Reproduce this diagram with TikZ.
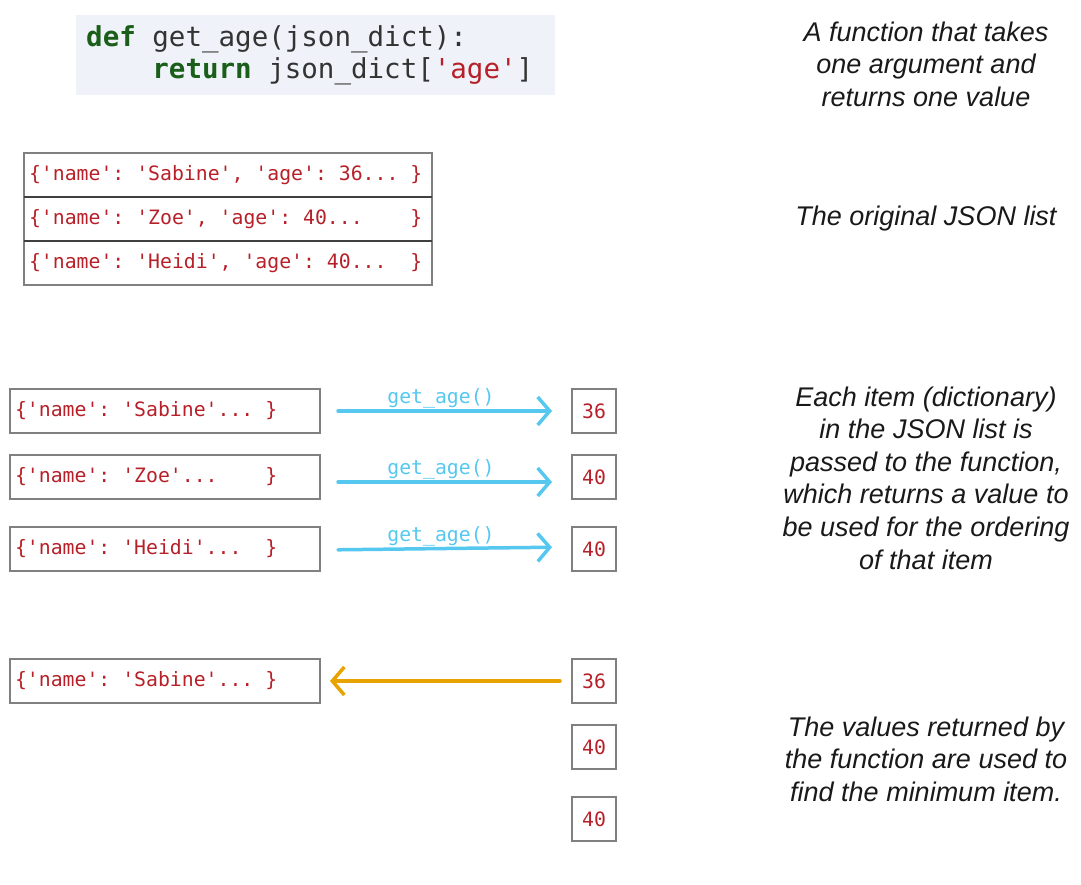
\documentclass[tikz,border=0pt]{standalone}
\usepackage{fontspec}
\setsansfont{Liberation Sans}
\setmonofont{DejaVu Sans Mono}
\usetikzlibrary{positioning,arrows.meta}
\definecolor{codebg}{RGB}{239,242,248}
\definecolor{keygreen}{RGB}{26,94,26}
\definecolor{codegray}{RGB}{51,51,51}
\definecolor{strred}{RGB}{183,32,40}
\definecolor{boxgray}{RGB}{128,128,128}
\definecolor{sepgray}{RGB}{64,64,64}
\definecolor{callblue}{RGB}{86,200,240}
\definecolor{pickorange}{RGB}{232,163,0}
\tikzset{
    entry/.style={
        draw=boxgray, line width=2pt, rectangle,
        minimum height=44pt, outer sep=0pt,
        inner xsep=5pt, inner ysep=0pt, align=left,
        text=strred, font=\fontsize{19.8}{20}\ttfamily
    },
    row/.style={entry, text width=398pt},
    item/.style={entry, text width=300pt},
    valbox/.style={
        draw=boxgray, line width=2pt, rectangle,
        minimum size=44pt, inner sep=0pt, outer sep=0pt,
        text=strred, font=\fontsize{19.8}{20}\ttfamily
    },
    note/.style={
        align=center, text=black!90,
        font=\fontsize{27}{32.6}\sffamily\itshape
    },
    sepline/.style={sepgray, line width=2pt},
    call/.style={callblue, line width=3.5pt, line cap=round,
        -{Straight Barb[length=12pt,width=28pt]},
        shorten <=18pt, shorten >=20pt},
    callname/.style={text=callblue, font=\fontsize{19.8}{20}\ttfamily,
        inner sep=1pt, xshift=-5pt},
    pick/.style={pickorange, line width=3.5pt, line cap=round,
        -{Straight Barb[length=12pt,width=28pt]},
        shorten <=12pt, shorten >=10pt}
}
% monospace spaces keep the full glyph width
\newcommand{\fullsp}{\spaceskip=\fontdimen2\font\xspaceskip=\fontdimen2\font\relax}
\newcommand{\kw}[1]{{\bfseries\color{keygreen}#1}}

\begin{document}
\begin{tikzpicture}[x=1pt,y=-1pt]
    \useasboundingbox (0,0) rectangle (1081,885);

    % the function
    \node[fill=codebg, anchor=north west, minimum width=479pt, minimum height=80pt,
          inner xsep=10pt, text width=459pt, align=left, text=codegray,
          font=\fontsize{27.5}{32}\ttfamily] (code) at (76,15)
          {\fullsp\kw{def} get\_age(json\_dict):\\
           ~~~~\kw{return} json\_dict[{\color{strred}'age'}]};

    % the original list
    \node[row, anchor=north west] (r1) at (24,153) {\fullsp\{'name': 'Sabine', 'age': 36... \}};
    \node[row, below=0pt of r1] (r2) {\fullsp\{'name': 'Zoe', 'age': 40...~~~~\}};
    \node[row, below=0pt of r2] (r3) {\fullsp\{'name': 'Heidi', 'age': 40...~~\}};
    \draw[sepline] (r1.south west) -- (r1.south east);
    \draw[sepline] (r2.south west) -- (r2.south east);

    % key function on each item
    \node[item, anchor=north west] (m1) at (10,389) {\fullsp\{'name': 'Sabine'... \}};
    \node[item, below=22pt of m1] (m2) {\fullsp\{'name': 'Zoe'...~~~~\}};
    \node[item, below=28pt of m2] (m3) {\fullsp\{'name': 'Heidi'...~~\}};
    \node[valbox, right=252pt of m1] (v1) {36};
    \node[valbox, right=252pt of m2] (v2) {40};
    \node[valbox, right=252pt of m3] (v3) {40};

    \draw[call] (m1) -- node[callname, midway, above] {get\_age()} (v1);
    \draw[call] ([yshift=-5pt]m2.east) -- node[callname, midway, above] {get\_age()} ([yshift=-5pt]v2.west);
    \draw[call] ([yshift=-1pt]m3.east) -- node[callname, midway, above] {get\_age()} ([yshift=2pt]v3.west);

    % the minimum
    \node[item, anchor=north west] (b1) at (10,659) {\fullsp\{'name': 'Sabine'... \}};
    \node[valbox, right=252pt of b1] (w1) {36};
    \node[valbox, below=22pt of w1] (w2) {40};
    \node[valbox, below=28pt of w2] (w3) {40};
    \draw[pick] (w1) -- (b1);

    % notes
    \node[note] (n1) at (926,64) {A function that takes\\one argument and\\returns one value};
    \node[note] (n2) at (926,219) {The original JSON list};
    \node[note] (n3) at (926,478) {Each item (dictionary)\\in the JSON list is\\passed to the function,\\which returns a value to\\be used for the ordering\\of that item};
    \node[note] (n4) at (926,759) {The values returned by\\the function are used to\\find the minimum item.};
\end{tikzpicture}
\end{document}
